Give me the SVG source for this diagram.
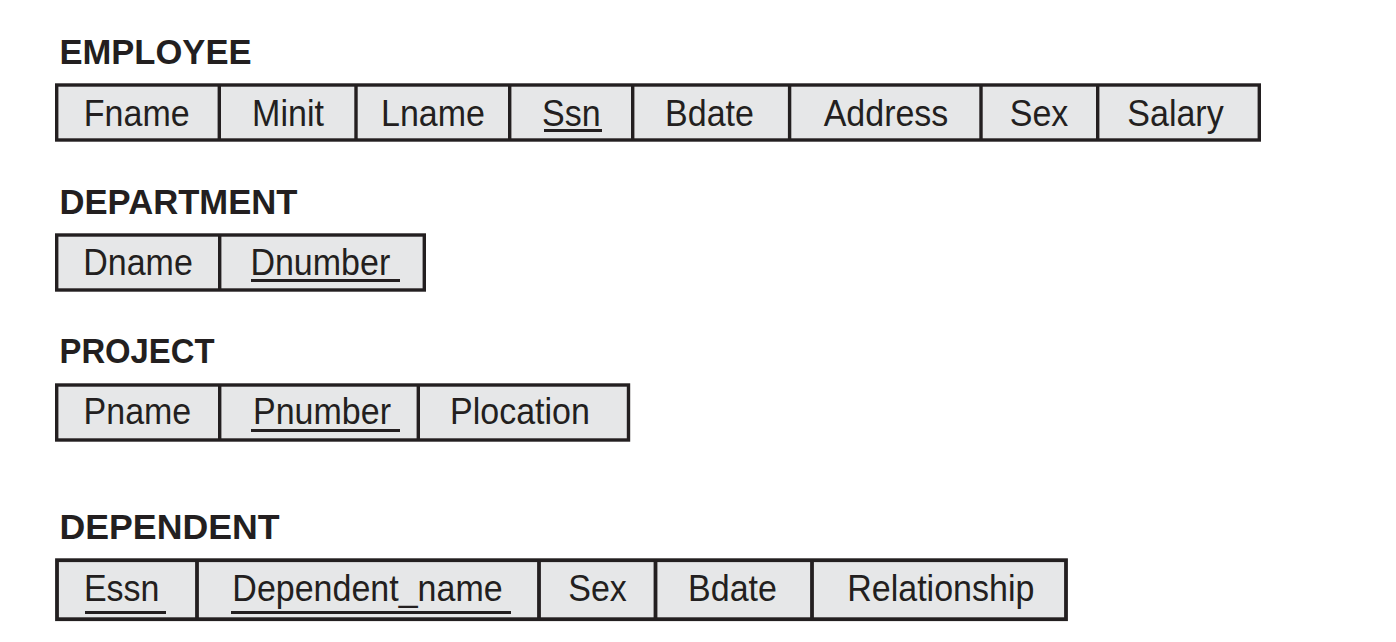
<svg xmlns="http://www.w3.org/2000/svg" width="1396" height="642" viewBox="0 0 1396 642">
<style>
.bg{fill:#ffffff}
.tbl{fill:#e6e7e8;stroke:#231f20;stroke-width:3.4}
.div{stroke:#231f20;stroke-width:3.4}
.ul{stroke:#231f20;stroke-width:3}
.hdr{font-family:"Liberation Sans",Arial,sans-serif;font-weight:bold;font-size:34.5px;fill:#231f20}
.fld{font-family:"Liberation Sans",Arial,sans-serif;font-size:34px;fill:#231f20;text-anchor:middle}
</style>
<rect class="bg" x="0" y="0" width="1396" height="642"/>

<g id="employee">
<text class="hdr" x="59.5" y="64.3" textLength="192" lengthAdjust="spacingAndGlyphs">EMPLOYEE</text>
<rect class="tbl" x="56.7" y="85" width="1202.6" height="55"/>
<line class="div" x1="219.3" y1="85" x2="219.3" y2="140"/>
<line class="div" x1="356" y1="85" x2="356" y2="140"/>
<line class="div" x1="509.7" y1="85" x2="509.7" y2="140"/>
<line class="div" x1="632.7" y1="85" x2="632.7" y2="140"/>
<line class="div" x1="789.6" y1="85" x2="789.6" y2="140"/>
<line class="div" x1="981" y1="85" x2="981" y2="140"/>
<line class="div" x1="1097.7" y1="85" x2="1097.7" y2="140"/>
<text class="fld" transform="translate(136.7,125.7) scale(1,1.1)">Fname</text>
<text class="fld" transform="translate(288,125.7) scale(1,1.1)">Minit</text>
<text class="fld" transform="translate(433,125.7) scale(1,1.1)">Lname</text>
<text class="fld" transform="translate(571.3,125.7) scale(1,1.1)">Ssn</text>
<line class="ul" x1="544" y1="130.5" x2="602" y2="130.5"/>
<text class="fld" transform="translate(709.5,125.7) scale(1,1.1)">Bdate</text>
<text class="fld" transform="translate(886,125.7) scale(1,1.1)">Address</text>
<text class="fld" transform="translate(1039,125.7) scale(1,1.1)">Sex</text>
<text class="fld" transform="translate(1175.5,125.7) scale(1,1.1)">Salary</text>
</g>

<g id="department">
<text class="hdr" x="59.5" y="214.3" textLength="238" lengthAdjust="spacingAndGlyphs">DEPARTMENT</text>
<rect class="tbl" x="56.7" y="235" width="367.6" height="55"/>
<line class="div" x1="219.7" y1="235" x2="219.7" y2="290"/>
<text class="fld" transform="translate(138,274.5) scale(1,1.1)">Dname</text>
<text class="fld" transform="translate(320.3,274.5) scale(1,1.1)">Dnumber</text>
<line class="ul" x1="251" y1="280.4" x2="400" y2="280.4"/>
</g>

<g id="project">
<text class="hdr" x="59.5" y="363" textLength="155" lengthAdjust="spacingAndGlyphs">PROJECT</text>
<rect class="tbl" x="56.7" y="385" width="571.8" height="55"/>
<line class="div" x1="219.7" y1="385" x2="219.7" y2="440"/>
<line class="div" x1="418.3" y1="385" x2="418.3" y2="440"/>
<text class="fld" transform="translate(137.4,424.3) scale(1,1.1)">Pname</text>
<text class="fld" transform="translate(322,424.3) scale(1,1.1)">Pnumber</text>
<line class="ul" x1="251" y1="430.4" x2="400" y2="430.4"/>
<text class="fld" transform="translate(520,424.3) scale(1,1.1)">Plocation</text>
</g>

<g id="dependent">
<text class="hdr" x="59.5" y="539.3" textLength="220" lengthAdjust="spacingAndGlyphs">DEPENDENT</text>
<rect class="tbl" x="57" y="560.2" width="1009" height="59" style="stroke-width:3.8"/>
<line class="div" x1="197" y1="560" x2="197" y2="619" style="stroke-width:3.8"/>
<line class="div" x1="539" y1="560" x2="539" y2="619" style="stroke-width:3.8"/>
<line class="div" x1="655.5" y1="560" x2="655.5" y2="619" style="stroke-width:3.8"/>
<line class="div" x1="812" y1="560" x2="812" y2="619" style="stroke-width:3.8"/>
<text class="fld" transform="translate(121.7,600.7) scale(1,1.1)">Essn</text>
<line class="ul" x1="85" y1="612.5" x2="166" y2="612.5"/>
<text class="fld" transform="translate(367.5,600.7) scale(1,1.1)">Dependent_name</text>
<line class="ul" x1="231" y1="612.5" x2="511" y2="612.5"/>
<text class="fld" transform="translate(597.5,600.7) scale(1,1.1)">Sex</text>
<text class="fld" transform="translate(732.5,600.7) scale(1,1.1)">Bdate</text>
<text class="fld" transform="translate(940.8,600.7) scale(1,1.1)">Relationship</text>
</g>
</svg>
